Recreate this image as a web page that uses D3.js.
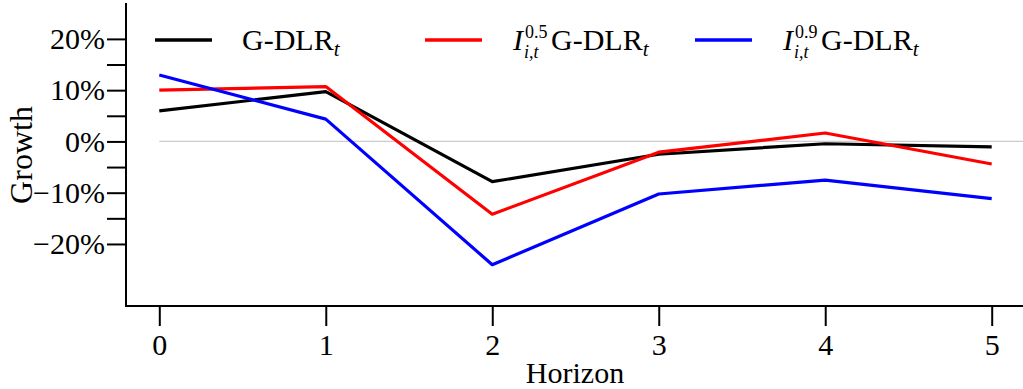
<!DOCTYPE html>
<html>
<head>
<meta charset="utf-8">
<script src="https://cdn.jsdelivr.net/npm/d3@7"></script>
<style>
  body { margin: 0; background: #fff; }
</style>
</head>
<body>
<svg width="1023" height="389"></svg>
<script>
// data (growth in %)
const horizons = [0, 1, 2, 3, 4, 5];
const gdlr = [5.95, 9.7, -7.85, -2.5, -0.45, -1.05];
const gdlr05 = [10.0, 10.7, -14.2, -2.1, 1.65, -4.4];
const gdlr09 = [12.95, 4.35, -24.05, -10.25, -7.55, -11.15];
const yTicks = [-20, -10, 0, 10, 20];
const yMinor = [-15, -5, 5, 15];

const series = [
  { name: 'G-DLR', sup: null, values: gdlr, color: '#000000' },
  { name: 'G-DLR', sup: '0.5', values: gdlr05, color: '#ff0000' },
  { name: 'G-DLR', sup: '0.9', values: gdlr09, color: '#0000ff' },
];

const FONT = "'Liberation Serif', 'DejaVu Serif', 'Noto Serif', 'Times New Roman', Times, serif";

const svg = d3.select('svg');

const x = d3.scaleLinear().domain([-0.2, 5.2]).range([126, 1025]);
const y = d3.scaleLinear().domain([-32.1, 27.0]).range([306, 3]);

// 零線
svg.append('line')
  .attr('x1', x(0)).attr('x2', 1023)
  .attr('y1', y(0)).attr('y2', y(0))
  .style('stroke', '#cccccc')
  .style('stroke-width', 1.2);

// y axis
const yAxis = svg.append('g')
  .attr('transform', `translate(${x.range()[0]},0)`)
  .call(d3.axisLeft(y).tickValues(yTicks).tickSize(19).tickPadding(2)
    .tickFormat((d) => (d < 0 ? '\u2212' + Math.abs(d) : d) + '%'));
yAxis.select('.domain').remove();
yAxis.selectAll('line').style('stroke-width', 2);

svg.append('g')
  .attr('transform', `translate(${x.range()[0]},0)`)
  .call(d3.axisLeft(y).tickValues(yMinor).tickSize(19).tickFormat(''))
  .call((g) => g.select('.domain').remove())
  .selectAll('line').style('stroke-width', 2);

// x axis
const xAxis = svg.append('g')
  .attr('transform', `translate(0,${y.range()[0]})`)
  .call(d3.axisBottom(x).tickValues(horizons).tickSize(20).tickPadding(8)
    .tickFormat(d3.format('d')));
xAxis.select('.domain').remove();
xAxis.selectAll('line').style('stroke-width', 2);

svg.selectAll('.tick text')
  .attr('font-family', null)
  .style('font-family', FONT)
  .style('font-size', '30px');

// spines
svg.append('line')
  .attr('x1', x.range()[0]).attr('x2', x.range()[0])
  .attr('y1', y.range()[1]).attr('y2', y.range()[0] + 1)
  .style('stroke', '#000').style('stroke-width', 2);
svg.append('line')
  .attr('x1', x.range()[0] - 1).attr('x2', 1023)
  .attr('y1', y.range()[0]).attr('y2', y.range()[0])
  .style('stroke', '#000').style('stroke-width', 2);

// lines
const line = d3.line()
  .x((d, i) => x(horizons[i]))
  .y((d) => y(d));

series.forEach((s) => {
  svg.append('path')
    .datum(s.values)
    .attr('d', line)
    .style('fill', 'none')
    .style('stroke', s.color)
    .style('stroke-width', 3.2)
    .style('stroke-linejoin', 'round');
});

// axis titles
svg.append('text')
  .attr('x', 575).attr('y', 383)
  .attr('text-anchor', 'middle')
  .style('font-family', FONT)
  .style('font-size', '30px')
  .text('Horizon');

svg.append('text')
  .attr('transform', 'translate(32,155) rotate(-90)')
  .attr('text-anchor', 'middle')
  .style('font-family', FONT)
  .style('font-size', '32px')
  .text('Growth');

// legend
const legendX = [155, 425, 695];
series.forEach((s, i) => {
  const lg = svg.append('g').attr('transform', `translate(${legendX[i]},40)`);
  lg.append('line')
    .attr('x1', 0).attr('x2', 57)
    .style('stroke', s.color)
    .style('stroke-width', 3.5);
  const t = lg.append('text')
    .attr('x', 88)
    .attr('y', 10)
    .style('font-family', FONT)
    .style('font-size', '30px');
  if (s.sup) {
    t.append('tspan').style('font-style', 'italic').text('I');
    const ix = 88 + 12;
    lg.append('text').attr('x', ix).attr('y', -2)
      .style('font-family', FONT)
      .style('font-size', '18px').text(s.sup);
    lg.append('text').attr('x', ix - 1).attr('y', 18)
      .style('font-family', FONT)
      .style('font-size', '18px').style('font-style', 'italic').text('i,t');
    t.append('tspan').attr('dx', 28).text(s.name);
  } else {
    t.append('tspan').attr('dx', -1).text(s.name);
  }
  t.append('tspan')
    .attr('dy', 6)
    .style('font-size', '21px')
    .style('font-style', 'italic')
    .text('t');
});
</script>
</body>
</html>
